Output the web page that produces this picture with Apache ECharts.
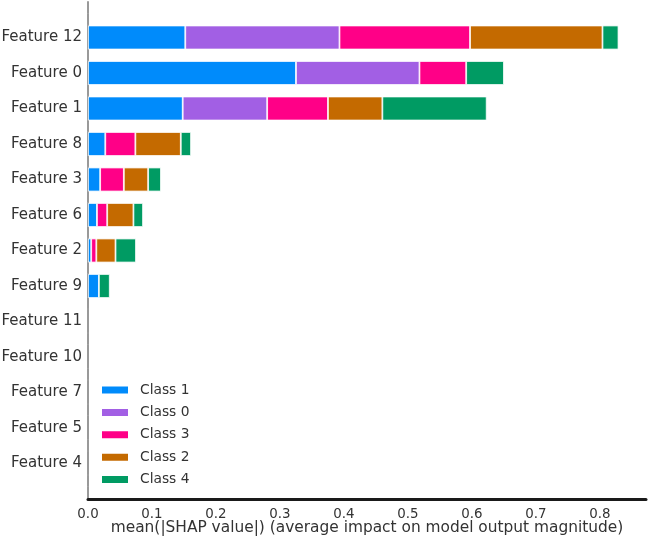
<!DOCTYPE html>
<html>
<head>
<meta charset="utf-8">
<script src="https://cdn.jsdelivr.net/npm/echarts@6/dist/echarts.min.js"></script>
<style>
html,body{margin:0;padding:0;background:#fff;}
#chart{width:649px;height:538px;}
</style>
</head>
<body>
<div id="chart"></div>
<script>
// Features from top to bottom
const features = ['Feature 12','Feature 0','Feature 1','Feature 8','Feature 3','Feature 6','Feature 2','Feature 9','Feature 11','Feature 10','Feature 7','Feature 5','Feature 4'];
const classNames = ['Class 1','Class 0','Class 3','Class 2','Class 4'];
const class1 = [0.152,0.325,0.148,0.027,0.019,0.014,0.005,0.017,0,0,0,0,0];
const class0 = [0.241,0.193,0.132,0,0,0,0,0,0,0,0,0,0];
const class3 = [0.204,0.073,0.095,0.047,0.037,0.016,0.008,0,0,0,0,0,0];
const class2 = [0.207,0,0.085,0.071,0.038,0.041,0.030,0,0,0,0,0,0];
const class4 = [0.025,0.059,0.163,0.016,0.020,0.015,0.032,0.017,0,0,0,0,0];
const xTicks = [0,0.1,0.2,0.3,0.4,0.5,0.6,0.7,0.8];
const colors = ['#008bfb','#a25fe4','#ff0087','#c46a00','#009b63'];

const values = [class1, class0, class3, class2, class4];
// category axis: bottom first, padded by one empty slot at each end
const cats = [''].concat(features.slice().reverse()).concat(['']);
function toAxisData(arr){
  const r = arr.slice().reverse().map(v => v === 0 ? '-' : v);
  return ['-'].concat(r).concat(['-']);
}

const font = 'DejaVu Sans';
const series = classNames.map((name, i) => ({
  name: name,
  type: 'bar',
  stack: 'total',
  barWidth: 24,
  data: toAxisData(values[i]),
  itemStyle: {color: colors[i], borderColor: '#ffffff', borderWidth: 0.8},
  emphasis: {disabled: true},
  animation: false
}));

const chart = echarts.init(document.getElementById('chart'), null, {renderer: 'canvas'});
chart.setOption({
  animation: false,
  backgroundColor: '#ffffff',
  grid: {left: 88, right: 3, top: 2, bottom: 39, containLabel: false, outerBoundsMode: 'none'},
  legend: {
    data: classNames,
    orient: 'vertical',
    left: 95,
    top: 377,
    icon: 'rect',
    itemWidth: 28,
    itemHeight: 9,
    itemGap: 6.4,
    textStyle: {fontFamily: font, fontSize: 13.8, color: '#333', lineHeight: 16, padding: [0,0,0,6]},
    selectedMode: false
  },
  xAxis: {
    type: 'value',
    min: 0,
    max: 0.872,
    interval: 0.1,
    name: 'mean(|SHAP value|) (average impact on model output magnitude)',
    nameLocation: 'middle',
    nameGap: 21.5,
    nameMoveOverlap: false,
    nameTextStyle: {fontFamily: font, fontSize: 15.4, color: '#333'},
    axisLine: {show: true, lineStyle: {color: '#1a1a1a', width: 3}},
    axisTick: {show: false},
    splitLine: {show: false},
    axisLabel: {
      fontFamily: font, fontSize: 13.4, color: '#333', margin: 9,
      showMaxLabel: false,
      formatter: v => (xTicks.indexOf(Math.round(v*10)/10) >= 0 ? v.toFixed(1) : '')
    }
  },
  yAxis: {
    type: 'category',
    data: cats,
    boundaryGap: false,
    axisLine: {show: true, lineStyle: {color: '#999999', width: 2, type: [10.5, 1, 23, 1], dashOffset: 22.5}},
    axisTick: {show: false},
    splitLine: {show: false},
    axisLabel: {fontFamily: font, fontSize: 15, color: '#333', margin: 6, interval: 0}
  },
  series: series
});
</script>
</body>
</html>
